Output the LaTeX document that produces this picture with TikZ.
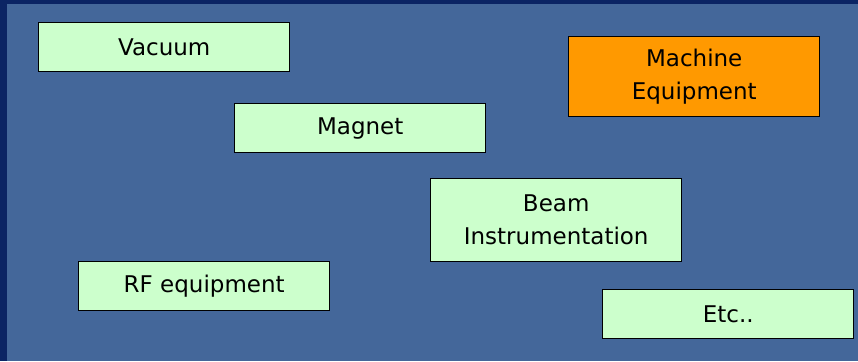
\documentclass[tikz,border=0pt]{standalone}
\usepackage{fontspec}
\setmainfont{DejaVu Sans}
\definecolor{bgblue}{HTML}{44679A}
\definecolor{navy}{HTML}{0B2464}
\definecolor{boxgreen}{HTML}{CCFFCC}
\definecolor{boxorange}{HTML}{FF9900}
\begin{document}
\begin{tikzpicture}[x=1pt,y=-1pt,
  box/.style={draw=black,line width=1.4pt,fill=boxgreen,minimum width=251pt,inner sep=0pt,align=center,
    font=\fontsize{23}{33}\selectfont,anchor=north west},
]
\useasboundingbox (0,0) rectangle (858,361);
\fill[navy] (0,0) rectangle (858,361);
\fill[bgblue] (7,4) rectangle (858,361);
\node[box,minimum height=49pt] (vac) at (38,22) {Vacuum};
\node[box,minimum height=80pt,fill=boxorange] (mach) at (568,36) {Machine\\Equipment};
\node[box,minimum height=49pt] (mag) at (234,103) {Magnet};
\node[box,minimum height=83pt] (beam) at (430,178) {Beam\\Instrumentation};
\node[box,minimum height=49pt] (rf) at (78,261) {RF equipment};
\node[box,minimum height=49pt] (etc) at (602,289) {Etc..};
\end{tikzpicture}
\end{document}
